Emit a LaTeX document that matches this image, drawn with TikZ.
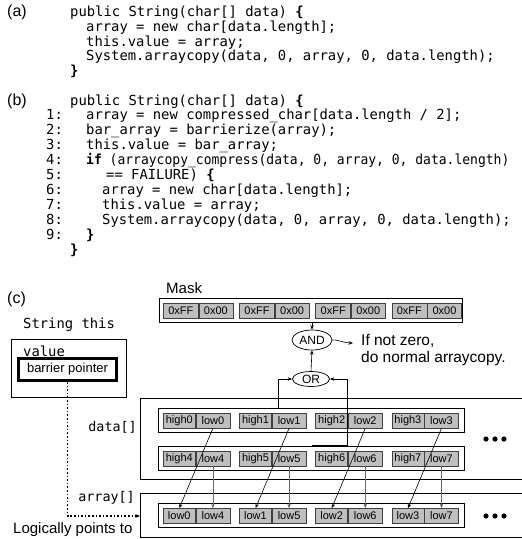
\documentclass[tikz,border=0pt]{standalone}
\usepackage{fontspec}
\setmainfont{Liberation Sans}
\setmonofont{DejaVu Sans Mono}
\usetikzlibrary{arrows.meta,shapes.geometric}
\newcommand{\codefnt}{\fontsize{13.85}{15}\selectfont\ttfamily}
\begin{document}
\begin{tikzpicture}[x=1pt,y=-1pt,
  >={Stealth[length=4.5pt,width=3.5pt]},
  code/.style={anchor=base west, inner sep=0pt, font=\codefnt},
  lbl/.style={anchor=west, inner sep=0pt, font=\fontsize{15}{17}\selectfont},
  panel/.style={anchor=west, inner sep=0pt, font=\fontsize{16}{18}\selectfont},
  cell/.style={draw=black!75, fill=black!25, minimum height=15pt, inner sep=0pt, anchor=west, font=\fontsize{11}{12}\selectfont, line width=0.6pt},
  rowbox/.style={draw, line width=0.8pt, inner sep=0pt, minimum height=24pt},
  gate/.style={ellipse, draw, inner sep=0pt, line width=0.7pt, font=\fontsize{12}{13}\selectfont},
  feed/.style={->, line width=0.6pt},
  grayfeed/.style={->, line width=0.6pt, draw=black!60},
]
\useasboundingbox (0,0) rectangle (522,539);

% ---------- (a) ----------
\node[panel] (pa) at (7,12.5) {(a)};
\node[code] (a0) at (70,16.5) {public String(char[] data) \textbf{\{}};
\node[code] (a1) at (86,31.3) {array = new char[data.length];};
\node[code] (a2) at (86,46.1) {this.value = array;};
\node[code] (a3) at (86,60.9) {System.arraycopy(data, 0, array, 0, data.length);};
\node[code] (a4) at (70,75.7) {\textbf{\}}};

% ---------- (b) ----------
\node[panel] (pb) at (7,101) {(b)};
\node[code] (b0) at (70,105) {public String(char[] data) \textbf{\{}};
\foreach \n [count=\k] in {1,...,9} {
  \node[code] (n\n) at (46,105+14.9*\k) {\n:};
}
\node[code] (b1) at (86,119.9) {array = new compressed\_char[data.length / 2];};
\node[code] (b2) at (86,134.8) {bar\_array = barrierize(array);};
\node[code] (b3) at (86,149.7) {this.value = bar\_array;};
\node[code] (b4) at (86,164.6) {\scalebox{0.94}[1]{\textbf{if} (arraycopy\_compress(data, 0, array, 0, data.length)}};
\node[code] (b5) at (106,179.5) {== FAILURE) \textbf{\{}};
\node[code] (b6) at (102,194.4) {array = new char[data.length];};
\node[code] (b7) at (102,209.3) {this.value = array;};
\node[code] (b8) at (102,224.2) {System.arraycopy(data, 0, array, 0, data.length);};
\node[code] (b9) at (86,239.1) {\textbf{\}}};
\node[code] (b10) at (70,254) {\textbf{\}}};

% ---------- (c) ----------
\node[panel] (pc) at (7,299) {(c)};

% String this
\node[code, anchor=west] (strlbl) at (23,325) {String this};
\node[draw, line width=0.8pt, minimum width=115pt, minimum height=58pt, inner sep=0pt] (strbox) at (68.5,368) {};
\node[code, anchor=west] (vallbl) at (23,351) {value};
\node[draw, line width=2.6pt, minimum width=98.4pt, minimum height=22.4pt, inner sep=0pt,
      font=\fontsize{13}{14}\selectfont] (barrier) at (67.5,369.5) {barrier pointer};

% Mask
\node[lbl] (masklbl) at (166,288) {Mask};
\node[rowbox, minimum width=303pt] (maskrow) at (310.5,310) {};
\foreach \i in {0,...,3} {
  \pgfmathsetmacro{\gx}{163+76.2*\i}
  \node[cell, minimum width=35pt] (mh\i) at (\gx,310.5) {0xFF};
  \node[cell, minimum width=34pt] (ml\i) at (mh\i.east) {0x00};
}

% gates
\node[gate, minimum width=40pt, minimum height=20pt] (and) at (312,340) {AND};
\node[gate, minimum width=37pt, minimum height=15pt] (or) at (311,379) {OR};
\node[lbl, font=\fontsize{15.5}{17}\selectfont] (t1) at (361,341) {If not zero,};
\node[lbl, font=\fontsize{15.5}{17}\selectfont] (t2) at (361,358) {do normal arraycopy.};

% data[] and array[] outer boxes
\draw[line width=0.8pt] (522,398) -- (140,398) -- (140,479) -- (522,479);
\draw[line width=0.8pt] (522,493) -- (140,493) -- (140,537) -- (522,537);
\node[code, anchor=east, font=\fontsize{13.4}{15}\selectfont\ttfamily] (datalbl) at (137,427) {data[]};
\node[code, anchor=east, font=\fontsize{13.4}{15}\selectfont\ttfamily] (arrlbl) at (135,498) {array[]};
\node[lbl] (logic) at (13,530) {Logically points to};

% rows
\node[rowbox, minimum width=306pt] (row1) at (311,420) {};
\node[rowbox, minimum width=306pt] (row2) at (311,458) {};
\node[rowbox, minimum width=306pt] (arow) at (311,515) {};
\foreach \i in {0,...,3} {
  \pgfmathsetmacro{\gx}{163+76.2*\i}
  \pgfmathtruncatemacro{\j}{\i+4}
  \node[cell, minimum width=32pt] (ah\i) at (\gx,420.5) {high\i};
  \node[cell, minimum width=34pt] (al\i) at (ah\i.east) {low\i};
  \node[cell, minimum width=32pt] (bh\i) at (\gx,458.5) {high\j};
  \node[cell, minimum width=34pt] (bl\i) at (bh\i.east) {low\j};
  \node[cell, minimum width=32pt] (cl\i) at (\gx,516) {low\i};
  \node[cell, minimum width=34pt] (cr\i) at (cl\i.east) {low\j};
}

% ellipsis dots
\foreach \y in {439,516} {
  \foreach \x in {486,495,504} { \fill (\x,\y) circle (2.6pt); }
}

% connectors
\draw[feed] (maskrow.south -| and.north) -- (and.north);
\draw[feed] (or.north) -- (and.south);
\coordinate (andout) at (353,343);
\draw[feed] (and.east) .. controls (340,340) and (344,343) .. (andout);
\coordinate (orl) at (278,408);
\coordinate (orr) at (312,445);
\coordinate (orc) at (347,445);
\draw[feed] (orl) |- (or.west);
\draw[feed] (orr) -- (orc) |- (or.east);
\foreach \i in {0,...,3} {
  \draw[feed] (al\i.south) -- (cl\i.north);
  \draw[grayfeed] (bl\i.south) -- (cr\i.north);
}
\coordinate (arrin) at (140,516);
\draw[->, dotted, line width=1.6pt] (barrier.south) |- (arrin);
\end{tikzpicture}
\end{document}
